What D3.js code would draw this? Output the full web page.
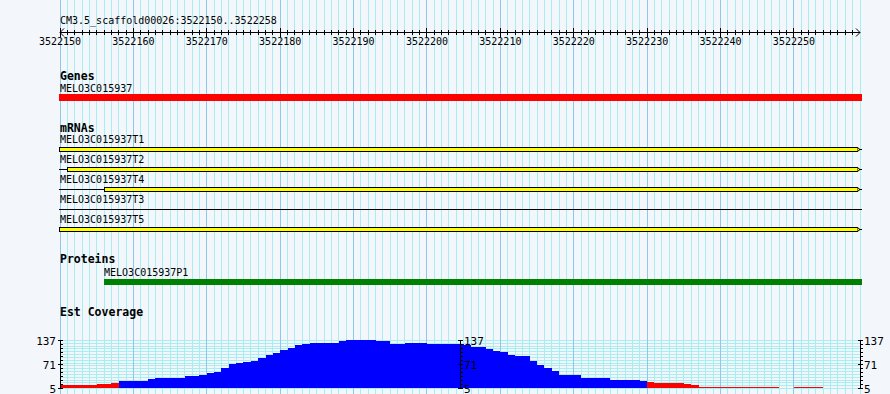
<!DOCTYPE html>
<html><head><meta charset="utf-8">
<script src="https://cdn.jsdelivr.net/npm/d3@7"></script>
<style>body{margin:0;background:#f3f6fb}svg{display:block}</style>
</head><body><svg id="c" width="890" height="394"></svg>
<script>
const refName = "CM3.5_scaffold00026";
const regionStart = 3522150, regionEnd = 3522258;
const rulerTicks = [3522150,3522160,3522170,3522180,3522190,3522200,3522210,3522220,3522230,3522240,3522250];

const geneNames = ["MELO3C015937"];
const geneStart = [3522150];
const geneEnd = [3522259];

const mrnaNames = ["MELO3C015937T1","MELO3C015937T2","MELO3C015937T4","MELO3C015937T3","MELO3C015937T5"];
const mrnaStart = [3522150,3522150,3522150,3522150,3522150];
const mrnaBoxStart = [3522150,3522151,3522156,null,3522150];
const mrnaEnd = [3522259,3522259,3522259,3522259,3522259];

const proteinNames = ["MELO3C015937P1"];
const proteinStart = [3522156];
const proteinEnd = [3522259];

const coverageTicks = [5,71,137];
const coverage = [
  12,12,12,12,12,15,15,18,24,24,
  24,24,29,32,32,32,32,37,37,40,
  46,50,59,70,73,76,79,87,95,101,
  109,114,123,125,130,130,130,130,133,136,
  136,137,137,133,133,127,127,130,130,130,
  127,127,127,127,125,122,117,117,113,108,
  103,97,92,92,78,69,60,53,42,41,
  41,32,32,32,32,28,28,26,26,23,
  21,18,18,18,18,15,12,8,8,8,
  8,8,8,8,8,8,8,8,0,0,
  8,8,8,8,0,0,0,0,0
];

const svg = d3.select("#c");
const W = 890, H = 394;
const x = d3.scaleLinear().domain([regionStart, regionEnd + 1]).range([60, 860]);
const yc = d3.scaleLinear().domain([5, 137]).range([388, 340]);
const mono = "'DejaVu Sans Mono', monospace";

svg.append("rect").attr("width", W).attr("height", H).attr("fill", "#f3f6fb");

// horizontal grid in coverage panel
const hg = svg.append("g").attr("shape-rendering", "crispEdges");
d3.range(18).forEach(i => {
  const v = 5 + i * 132 / 17;
  const yy = Math.round(yc(v)) + 0.5;
  hg.append("line").attr("x1", 60).attr("x2", 860).attr("y1", yy).attr("y2", yy)
    .attr("stroke", "#a8eef0").attr("stroke-width", 1);
});

// vertical grid
const vg = svg.append("g").attr("shape-rendering", "crispEdges");
d3.range(regionStart, regionEnd + 2).forEach(bp => {
  const xx = Math.floor(x(bp)) + 0.5;
  vg.append("line").attr("x1", xx).attr("x2", xx).attr("y1", 0).attr("y2", H)
    .attr("stroke", bp % 10 === 0 ? "#8cc8ec" : "#a8eef0").attr("stroke-width", 1);
});

// ruler
svg.append("text").attr("x", 60).attr("y", 24).attr("font-family", mono).attr("font-size", 10)
  .attr("fill", "#000").text(`${refName}:${regionStart}..${regionEnd}`);
const rg = svg.append("g").attr("shape-rendering", "crispEdges");
rg.append("line").attr("x1", 60).attr("x2", 860).attr("y1", 32.5).attr("y2", 32.5).attr("stroke", "#000");
d3.range(regionStart, regionEnd + 1).forEach(bp => {
  const xx = Math.floor(x(bp)) + 0.5;
  const major = rulerTicks.includes(bp);
  rg.append("line").attr("x1", xx).attr("x2", xx)
    .attr("y1", major ? 28 : 30).attr("y2", major ? 37 : 35).attr("stroke", "#000");
});
svg.append("path").attr("d", "M64,28.5L60,32.5L64,36.5").attr("fill", "none").attr("stroke", "#000");
svg.append("path").attr("d", "M856,28.5L860,32.5L856,36.5").attr("fill", "none").attr("stroke", "#000");
svg.append("g").selectAll("text").data(rulerTicks).join("text")
  .attr("x", d => x(d)).attr("y", 45).attr("text-anchor", "middle")
  .attr("font-family", mono).attr("font-size", 10).text(d => d);

function trackLabel(t, yy) {
  svg.append("text").attr("x", 60).attr("y", yy).attr("font-family", mono)
    .attr("font-size", 11.5).attr("font-weight", "bold").text(t);
}
function featLabel(t, xx, yy) {
  svg.append("text").attr("x", xx).attr("y", yy).attr("font-family", mono)
    .attr("font-size", 10).text(t);
}

// Genes
trackLabel("Genes", 80);
geneNames.forEach((n, i) => {
  featLabel(n, 60, 92);
  svg.append("rect").attr("x", x(geneStart[i]) - 1).attr("y", 94)
    .attr("width", x(geneEnd[i]) + 2 - (x(geneStart[i]) - 1)).attr("height", 7).attr("fill", "#ff0000");
});

// mRNAs
trackLabel("mRNAs", 131.5);
const mg = svg.append("g").attr("shape-rendering", "crispEdges");
mrnaNames.forEach((n, i) => {
  const base = 143 + i * 20;
  featLabel(n, 60, base);
  const cy = base + 6;
  mg.append("line").attr("x1", x(mrnaStart[i]) - 1).attr("x2", x(mrnaEnd[i]) + 2)
    .attr("y1", cy + 0.5).attr("y2", cy + 0.5).attr("stroke", "#000");
  if (mrnaBoxStart[i] !== null) {
    const bx = mrnaBoxStart[i] === mrnaStart[i] ? x(mrnaBoxStart[i]) - 1 : x(mrnaBoxStart[i]);
    const ex = x(mrnaEnd[i]) - 3;
    mg.append("rect").attr("x", Math.round(bx) + 0.5).attr("y", cy - 1.5)
      .attr("width", Math.round(ex - bx)).attr("height", 4)
      .attr("fill", "#ffff00").attr("stroke", "#000");
    svg.append("path").attr("d", `M${Math.round(ex) + 0.5},${cy - 1.5}L${Math.round(ex) + 3},${cy + 0.5}L${Math.round(ex) + 0.5},${cy + 2.5}`)
      .attr("fill", "#ffff00").attr("stroke", "#000").attr("stroke-width", 1);
  }
});

// Proteins
trackLabel("Proteins", 263);
proteinNames.forEach((n, i) => {
  featLabel(n, x(proteinStart[i]), 276);
  svg.append("rect").attr("x", x(proteinStart[i])).attr("y", 279)
    .attr("width", x(proteinEnd[i]) + 2 - x(proteinStart[i])).attr("height", 6).attr("fill", "#008000");
});

// Est coverage
trackLabel("Est Coverage", 315.5);
const cg = svg.append("g").attr("shape-rendering", "crispEdges");
coverage.forEach((v, i) => {
  if (v <= 5) return;
  const x0 = Math.round(x(regionStart + i)), x1 = Math.round(x(regionStart + i + 1));
  const top = Math.min(Math.round(yc(v)), 387);
  cg.append("rect").attr("x", x0).attr("y", top).attr("width", x1 - x0).attr("height", 388 - top)
    .attr("fill", v < 22 ? "#ff0000" : "#0000ff");
});

// coverage axes
[60, 460, 860].forEach((ax, k) => {
  const g = svg.append("g").attr("shape-rendering", "crispEdges");
  g.append("line").attr("x1", ax + 0.5).attr("x2", ax + 0.5).attr("y1", 340).attr("y2", 388).attr("stroke", "#000");
  d3.range(13).forEach(j => {
    const yy = Math.round(340 + j * 48 / 12) + 0.5;
    g.append("line").attr("x1", ax + 0.5).attr("x2", ax + 3).attr("y1", yy).attr("y2", yy).attr("stroke", "#000");
  });
  coverageTicks.forEach(t => {
    const yy = Math.round(yc(t)) + 0.5;
    g.append("line").attr("x1", ax - 2).attr("x2", ax + 3).attr("y1", yy).attr("y2", yy).attr("stroke", "#000");
    svg.append("text").attr("x", k === 0 ? ax - 4 : ax + 4).attr("y", yy + 4)
      .attr("text-anchor", k === 0 ? "end" : "start")
      .attr("font-family", mono).attr("font-size", 11).text(t);
  });
});
</script></body></html>
